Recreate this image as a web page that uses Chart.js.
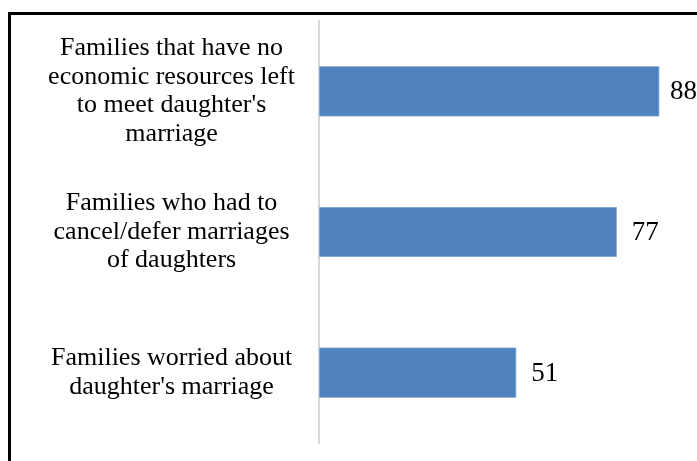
<!DOCTYPE html>
<html>
<head>
<meta charset="utf-8">
<script src="https://cdn.jsdelivr.net/npm/chart.js@4.4.1/dist/chart.umd.min.js"></script>
<style>
    html, body { margin: 0; padding: 0; background: #fff; }
    #wrap { position: relative; width: 697px; height: 461px; overflow: hidden; }
    #frame {
        position: absolute; left: 8px; top: 12px; width: 700px; height: 460px;
        border-top: 3px solid #000; border-left: 3px solid #000;
        pointer-events: none;
    }
    canvas { position: absolute; left: 0; top: 0; }
</style>
</head>
<body>
<div id="wrap">
    <canvas id="marriageChart" width="697" height="461"></canvas>
    <div id="frame"></div>
</div>
<script>
// categories (one array per wrapped label) and the percentages
const categories = [
    ['Families that have no', 'economic resources left', "to meet daughter's", 'marriage'],
    ['Families who had to', 'cancel/defer marriages', 'of daughters'],
    ['Families worried about', "daughter's marriage"]
];
const percentages = [88, 77, 51];

const labelFont = "'Liberation Serif', 'Times New Roman', serif";

// writes the value just past the end of each bar, kept inside the canvas
const valueLabels = {
    id: 'valueLabels',
    afterDatasetsDraw(chart) {
        const ctx = chart.ctx;
        const meta = chart.getDatasetMeta(0);
        ctx.save();
        ctx.font = '27px ' + labelFont;
        ctx.fillStyle = '#000';
        ctx.textAlign = 'left';
        ctx.textBaseline = 'middle';
        meta.data.forEach(function(bar, i) {
            const txt = String(percentages[i]);
            const w = ctx.measureText(txt).width;
            const x = Math.min(bar.x + 15, chart.width - w);
            ctx.fillText(txt, x, bar.y + 1);
        });
        ctx.restore();
    }
};

document.addEventListener("DOMContentLoaded", function() {
    const ctx = document.getElementById('marriageChart').getContext('2d');

    new Chart(ctx, {
        type: 'bar',
        data: {
            labels: categories,
            datasets: [{
                data: percentages,
                backgroundColor: '#4f81bd',
                borderColor: '#9ab8dc',
                borderWidth: 1,
                borderSkipped: false,
                barThickness: 50
            }]
        },
        plugins: [valueLabels],
        options: {
            indexAxis: 'y',
            responsive: false,
            animation: false,
            layout: {
                padding: { top: 21, bottom: 18, left: 0, right: 30 }
            },
            plugins: {
                legend: { display: false },
                tooltip: { enabled: false }
            },
            scales: {
                x: {
                    display: false,
                    min: 0,
                    max: 90
                },
                y: {
                    afterFit: function(scale) {
                        scale.width = 319;
                        scale.paddingTop = 0;
                        scale.paddingBottom = 0;
                    },
                    grid: { display: false, drawTicks: false },
                    border: { display: true, color: '#d9d9d9', width: 2 },
                    ticks: {
                        crossAlign: 'center',
                        padding: 24,
                        color: '#000',
                        font: { family: labelFont, size: 26, lineHeight: 1.1 }
                    }
                }
            }
        }
    });
});
</script>
</body>
</html>
